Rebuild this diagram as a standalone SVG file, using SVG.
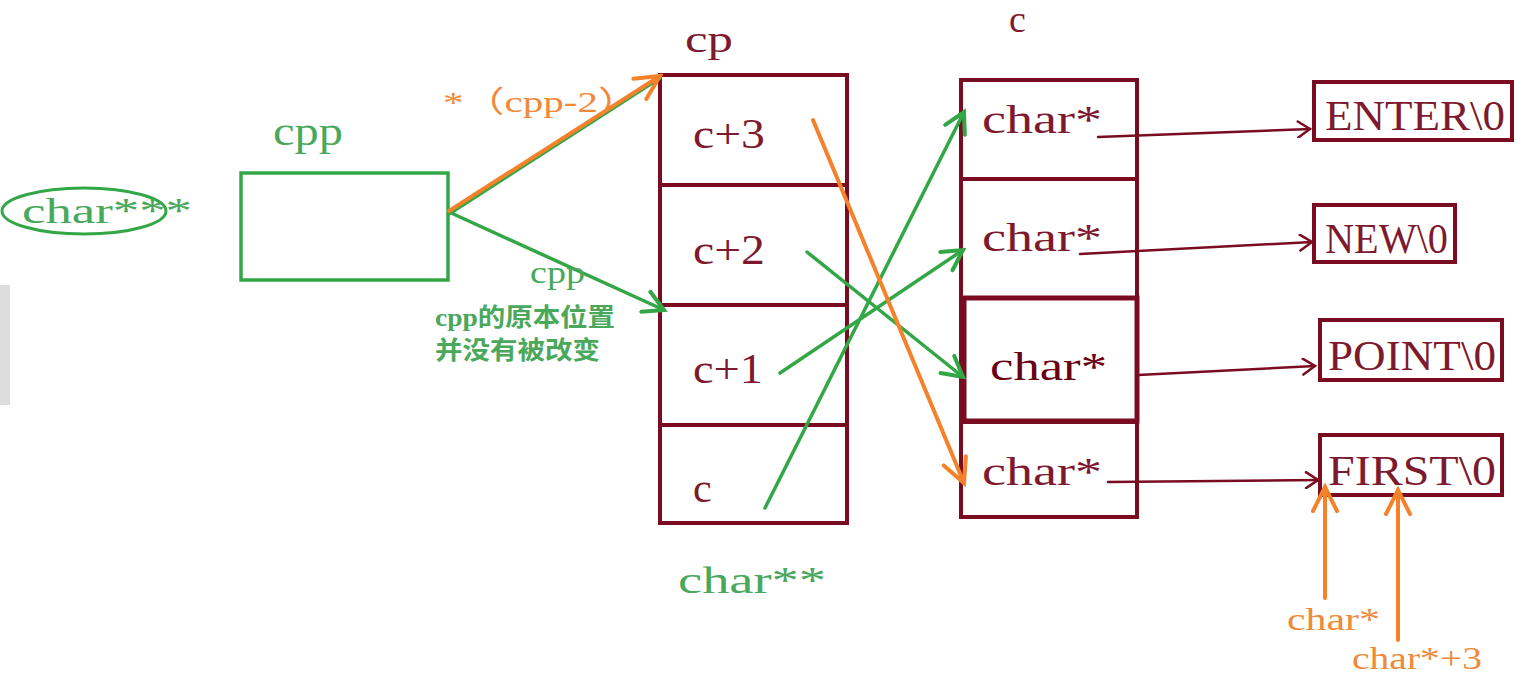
<svg xmlns="http://www.w3.org/2000/svg" width="1516" height="693" viewBox="0 0 1516 693">
<style>
.g{fill:none;stroke:#33a646;stroke-width:3.5;stroke-linecap:round}
.o{fill:none;stroke:#f5822a;stroke-width:4;stroke-linecap:round}
.r{fill:none;stroke:#7a0c22;stroke-width:4}
.rl{fill:none;stroke:#7a0c22;stroke-width:2.5;stroke-linecap:round}
.t{font-family:"Liberation Serif","Noto Sans CJK SC",serif}
.tr{fill:#7d1a2e}
.tg{fill:#4aa85c}
.to{fill:#f08a3a}
</style>
<defs>
<marker id="ag2" markerWidth="26" markerHeight="26" refX="22" refY="13" orient="auto" markerUnits="userSpaceOnUse"><path d="M2,2 L22,13 L2,24" fill="none" stroke="#33a646" stroke-width="4" stroke-linecap="round"/></marker>
<marker id="ao" markerWidth="30" markerHeight="30" refX="26" refY="15" orient="auto" markerUnits="userSpaceOnUse"><path d="M2,3 L26,15 L2,27" fill="none" stroke="#f5822a" stroke-width="4" stroke-linecap="round"/></marker>
<marker id="ar" markerWidth="16" markerHeight="18" refX="14" refY="9" orient="auto" markerUnits="userSpaceOnUse"><path d="M2,1 L14,9 L2,17" fill="none" stroke="#7a0c22" stroke-width="2.5" stroke-linecap="round"/></marker>
</defs>
<rect x="0" y="0" width="1516" height="693" fill="#ffffff"/>
<rect x="0" y="285" width="10" height="120" fill="#dddddd"/>

<g id="char3-label">
<ellipse cx="84" cy="211" rx="82" ry="23" fill="none" stroke="#33a646" stroke-width="3"/>
<text class="t tg" x="22" y="223" font-size="36" textLength="170" lengthAdjust="spacingAndGlyphs">char***</text>
</g>

<g id="cpp">
<text class="t tg" x="273" y="145" font-size="40" textLength="70" lengthAdjust="spacingAndGlyphs">cpp</text>
<rect x="241" y="173" width="207" height="107" fill="none" stroke="#33a646" stroke-width="3.5"/>
</g>

<g id="cp">
<text class="t tr" x="685" y="52" font-size="38" textLength="48" lengthAdjust="spacingAndGlyphs">cp</text>
<rect x="660" y="75" width="187" height="448" class="r"/>
<line x1="660" y1="185" x2="847" y2="185" class="r"/>
<line x1="660" y1="305" x2="847" y2="305" class="r"/>
<line x1="660" y1="425" x2="847" y2="425" class="r"/>
<text class="t tr" x="693" y="148" font-size="42" textLength="72" lengthAdjust="spacingAndGlyphs">c+3</text>
<text class="t tr" x="693" y="264" font-size="42" textLength="72" lengthAdjust="spacingAndGlyphs">c+2</text>
<text class="t tr" x="693" y="383" font-size="42" textLength="70" lengthAdjust="spacingAndGlyphs">c+1</text>
<text class="t tr" x="693" y="502" font-size="42">c</text>
<text class="t tg" x="678" y="593" font-size="38" textLength="148" lengthAdjust="spacingAndGlyphs">char**</text>
</g>

<g id="c">
<text class="t tr" x="1009" y="32" font-size="38">c</text>
<rect x="961" y="80" width="176" height="437" class="r"/>
<line x1="961" y1="179" x2="1137" y2="179" class="r"/>
<line x1="961" y1="422" x2="1137" y2="422" class="r"/>
<rect x="964" y="298" width="173" height="123" fill="#ffffff" stroke="#7a0c22" stroke-width="5"/>
<text class="t tr" x="982" y="133" font-size="40" textLength="120" lengthAdjust="spacingAndGlyphs">char*</text>
<text class="t tr" x="982" y="251" font-size="40" textLength="120" lengthAdjust="spacingAndGlyphs">char*</text>
<text class="t" x="990" y="380" font-size="40" fill="#6a0014" textLength="117" lengthAdjust="spacingAndGlyphs">char*</text>
<text class="t tr" x="982" y="485" font-size="40" textLength="120" lengthAdjust="spacingAndGlyphs">char*</text>
</g>

<g id="enter">
<rect x="1314" y="82" width="198" height="58" class="r"/>
<text class="t tr" x="1325" y="130" font-size="42" textLength="180" lengthAdjust="spacingAndGlyphs">ENTER\0</text>
</g>
<g id="new">
<rect x="1314" y="205" width="141" height="57" class="r"/>
<text class="t tr" x="1325" y="253" font-size="42" textLength="123" lengthAdjust="spacingAndGlyphs">NEW\0</text>
</g>
<g id="point">
<rect x="1320" y="320" width="182" height="60" class="r"/>
<text class="t tr" x="1328" y="370" font-size="42" textLength="168" lengthAdjust="spacingAndGlyphs">POINT\0</text>
</g>
<g id="first">
<rect x="1320" y="435" width="182" height="60" class="r"/>
<text class="t tr" x="1328" y="485" font-size="42" textLength="168" lengthAdjust="spacingAndGlyphs">FIRST\0</text>
</g>

<g id="connectors">
<path d="M1098,137 L1310,129" class="rl" marker-end="url(#ar)"/>
<path d="M1080,254 L1312,242" class="rl" marker-end="url(#ar)"/>
<path d="M1138,375 L1315,366" class="rl" marker-end="url(#ar)"/>
<path d="M1108,482 L1318,480" class="rl" marker-end="url(#ar)"/>

<path d="M449,214 L660,78" class="g" stroke-width="4.5"/>
<path d="M449,212 L664,310" class="g" stroke-width="4.5" marker-end="url(#ag2)"/>
<path d="M449,211 L660,76" class="o" marker-end="url(#ao)"/>

<path d="M765,508 L964,112" class="g" marker-end="url(#ag2)"/>
<path d="M780,373 L963,250" class="g" marker-end="url(#ag2)"/>
<path d="M807,252 L963,377" class="g" marker-end="url(#ag2)"/>
<path d="M813,120 L964,483" class="o" marker-end="url(#ao)"/>

<path d="M1325,598 L1325,487" class="o" marker-end="url(#ao)"/>
<path d="M1398,640 L1398,490" class="o" marker-end="url(#ao)"/>
</g>

<g id="labels">
<text class="t to" x="443" y="112" font-size="30" textLength="196" lengthAdjust="spacingAndGlyphs">*（cpp-2）</text>
<text class="t tg" x="530" y="283" font-size="32" textLength="55" lengthAdjust="spacingAndGlyphs">cpp</text>
<text class="t tg" x="435" y="326" font-size="25" font-weight="bold" textLength="180" lengthAdjust="spacingAndGlyphs">cpp的原本位置</text>
<text class="t tg" x="435" y="359" font-size="25" font-weight="bold" textLength="165" lengthAdjust="spacingAndGlyphs">并没有被改变</text>
<text class="t to" x="1287" y="630" font-size="32" textLength="93" lengthAdjust="spacingAndGlyphs">char*</text>
<text class="t to" x="1352" y="669" font-size="32" textLength="130" lengthAdjust="spacingAndGlyphs">char*+3</text>
</g>
</svg>
